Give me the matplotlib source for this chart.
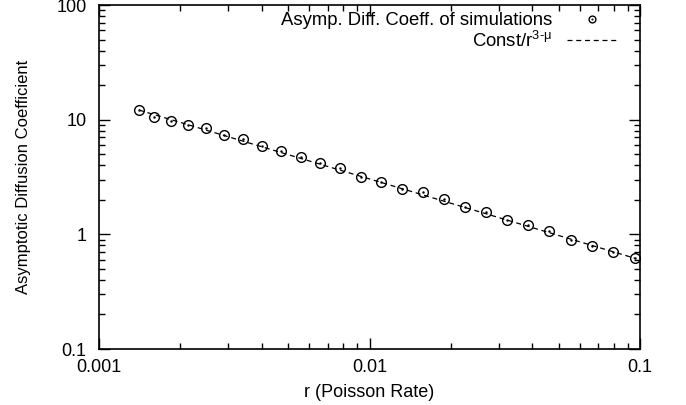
import numpy as np
import matplotlib
matplotlib.use("Agg")
import matplotlib.pyplot as plt
from matplotlib.legend_handler import HandlerTuple

plt.rcParams['font.family'] = ['Liberation Sans', 'DejaVu Sans']
plt.rcParams['mathtext.fontset'] = 'custom'
plt.rcParams['mathtext.rm'] = 'Liberation Sans'

# simulation results
rate = [0.001406, 0.001597, 0.001846, 0.002133, 0.002487, 0.002898, 0.003407,
        0.004006, 0.004708, 0.005580, 0.006561, 0.007780, 0.009303, 0.01103,
        0.01319, 0.01577, 0.01886, 0.02254, 0.02696, 0.03224, 0.03855,
        0.04609, 0.05558, 0.06646, 0.07947, 0.09583]
diff_coeff = [12.13, 10.6, 9.67, 8.97, 8.4, 7.30, 6.73, 5.89, 5.36, 4.72,
              4.18, 3.79, 3.16, 2.84, 2.47, 2.34, 2.04, 1.72, 1.56, 1.34,
              1.21, 1.07, 0.89, 0.79, 0.705, 0.618]

# fit: Const / r^(3-mu)
fit_const = 0.1183
fit_exp = 0.705

fig = plt.figure(figsize=(6.86, 4.05), dpi=100)
ax = fig.add_axes([99/686, 1-349/405, (640-99)/686, (349-5)/405])

r_fit = np.logspace(np.log10(rate[0]), np.log10(rate[-1]), 200)
line, = ax.plot(r_fit, fit_const / r_fit**fit_exp, color='black', lw=0.9,
                ls=(0, (4, 3)))
circ, = ax.plot(rate, diff_coeff, ls='none', marker='o', ms=7, mfc='none',
                mec='black', mew=1.0)
dot, = ax.plot(rate, diff_coeff, ls='none', marker='.', ms=1.5, color='black')

ax.set_xscale('log')
ax.set_yscale('log')
ax.set_xlim(0.001, 0.1)
ax.set_ylim(0.1, 100)
ax.set_xticks([0.001, 0.01, 0.1])
ax.set_xticklabels(['0.001', '0.01', '0.1'])
ax.set_yticks([0.1, 1, 10, 100])
ax.set_yticklabels(['0.1', '1', '10', '100'])

ax.tick_params(which='both', direction='in', top=True, right=True,
               labelsize=13, width=1.0, colors='black')
ax.tick_params(which='major', length=8)
ax.tick_params(which='minor', length=4)
ax.tick_params(axis='x', which='major', pad=7)
ax.tick_params(axis='y', which='major', pad=9)
for s in ax.spines.values():
    s.set_linewidth(1.2)

ax.set_xlabel('r (Poisson Rate)', fontsize=13, labelpad=6)
ax.set_ylabel('Asymptotic Diffusion Coefficient', fontsize=12, labelpad=18)

fig.legend([(circ, dot), line],
           ['Asymp. Diff. Coeff. of simulations', 'Const/r$^{\\text{3-μ}}$'],
           handler_map={tuple: HandlerTuple(ndivide=1, pad=0)},
           loc='upper right', bbox_to_anchor=(617/686, 1-12/405),
           frameon=False, markerfirst=False, fontsize=13.3, markerscale=0.7,
           handlelength=2.7, handletextpad=0.8, borderpad=0,
           borderaxespad=0, labelspacing=0.1)

fig.savefig('out.png', dpi=100)
